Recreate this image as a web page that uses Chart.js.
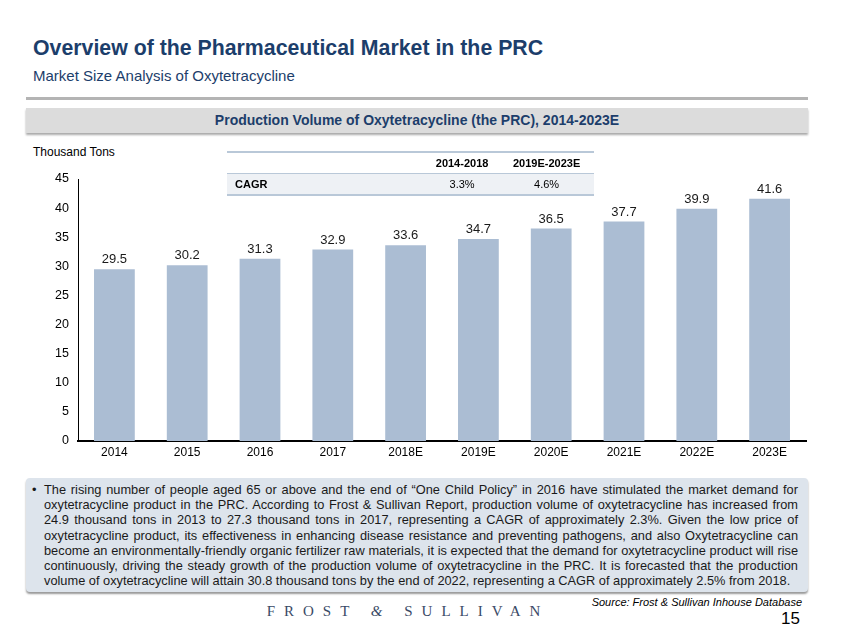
<!DOCTYPE html>
<html lang="en">
<head>
    <meta charset="UTF-8">
    <title>Production Volume of Oxytetracycline (the PRC), 2014-2023E</title>
    <script src="https://cdn.jsdelivr.net/npm/chart.js"></script>
    <style>
        body {
            margin: 0;
            width: 843px;
            height: 635px;
            position: relative;
            background: #ffffff;
            font-family: 'Liberation Sans', Arial, sans-serif;
            overflow: hidden;
        }
        .title {
            position: absolute; left: 33px; top: 36px;
            font-size: 21.3px; font-weight: bold; color: #1c3e6b;
        }
        .subtitle {
            position: absolute; left: 33px; top: 67px;
            font-size: 15px; color: #1c3e6b;
        }
        .rule {
            position: absolute; left: 26px; top: 97px; width: 782px; height: 3px;
            background: #b4b4b4;
        }
        .chartTitle {
            position: absolute; left: 26px; top: 108px; width: 782px; height: 25px;
            background: #dcdcdc; box-shadow: 0 2px 2px #aaa;
            text-align: center; line-height: 25px;
            font-size: 14px; font-weight: bold; color: #1c3e6b;
        }
        .unit {
            position: absolute; left: 33px; top: 145px; font-size: 12px; color: #000;
        }
        #wrap {
            position: absolute; left: 0; top: 160px; width: 843px; height: 310px;
        }
        table.cagr {
            position: absolute; left: 227px; top: 151px; width: 367px;
            border-collapse: collapse; font-size: 11px; color: #000;
        }
        table.cagr td { padding: 0; height: 20px; text-align: center; }
        table.cagr tr.head td { border-top: 2px solid #b9c8d8; border-bottom: 1px solid #b9c8d8; font-weight: bold; }
        table.cagr tr.row td { background: #eef1f5; border-bottom: 2px solid #b9c8d8; }
        table.cagr td.lbl { text-align: left; padding-left: 8px; font-weight: bold; width: 190px; }
        .note {
            position: absolute; left: 26px; top: 478px; width: 764px; height: 108px;
            padding: 4px 10px 2px 8px;
            background: #dde4ec; border-radius: 4px; box-shadow: 0 2px 2px #999;
            font-size: 12.8px; line-height: 15.2px; color: #1a1a1a; text-align: justify;
        }
        .note .bullet { position: absolute; left: 6px; top: 4px; }
        .note p { margin: 0 0 0 10px; }
        .source {
            position: absolute; right: 41px; top: 596px;
            font-size: 11px; font-style: italic; color: #000;
        }
        .page {
            position: absolute; right: 43px; top: 609px; font-size: 17px; color: #000;
        }
        .brand {
            position: absolute; left: 238px; top: 603px; width: 340px; text-align: center;
            font-family: 'Liberation Serif', 'DejaVu Serif', serif; font-size: 15px;
            letter-spacing: 9px; color: #3a4a66;
        }
        .brand i { font-style: italic; }
    </style>
</head>
<body>
    <div class="title">Overview of the Pharmaceutical Market in the PRC</div>
    <div class="subtitle">Market Size Analysis of Oxytetracycline</div>
    <div class="rule"></div>
    <div class="chartTitle">Production Volume of Oxytetracycline (the PRC), 2014-2023E</div>
    <div class="unit">Thousand Tons</div>

    <div id="wrap"><canvas id="chart"></canvas></div>

    <table class="cagr" id="cagrTable"></table>

    <div class="note">
        <span class="bullet">•</span>
        <p>The rising number of people aged 65 or above and the end of “One Child Policy” in 2016 have stimulated the market demand for oxytetracycline product in the PRC. According to Frost &amp; Sullivan Report, production volume of oxytetracycline has increased from 24.9 thousand tons in 2013 to 27.3 thousand tons in 2017, representing a CAGR of approximately 2.3%. Given the low price of oxytetracycline product, its effectiveness in enhancing disease resistance and preventing pathogens, and also Oxytetracycline can become an environmentally-friendly organic fertilizer raw materials, it is expected that the demand for oxytetracycline product will rise continuously, driving the steady growth of the production volume of oxytetracycline in the PRC. It is forecasted that the production volume of oxytetracycline will attain 30.8 thousand tons by the end of 2022, representing a CAGR of approximately 2.5% from 2018.</p>
    </div>
    <div class="source">Source: Frost &amp; Sullivan Inhouse Database</div>
    <div class="brand">FROST <i>&amp;</i> SULLIVAN</div>
    <div class="page">15</div>

    <script>
        const years = ["2014", "2015", "2016", "2017", "2018E", "2019E", "2020E", "2021E", "2022E", "2023E"];
        const volume = [29.5, 30.2, 31.3, 32.9, 33.6, 34.7, 36.5, 37.7, 39.9, 41.6];
        const cagrPeriods = ["2014-2018", "2019E-2023E"];
        const cagrValues = ["3.3%", "4.6%"];

        // CAGR table on top of the chart
        document.getElementById("cagrTable").innerHTML =
            `<tr class="head"><td class="lbl"></td>${cagrPeriods.map(p => `<td>${p}</td>`).join("")}</tr>` +
            `<tr class="row"><td class="lbl">CAGR</td>${cagrValues.map(v => `<td>${v}</td>`).join("")}</tr>`;

        // value labels above the bars
        const barLabels = {
            id: "barLabels",
            afterDatasetsDraw(chart) {
                const ctx = chart.ctx;
                const meta = chart.getDatasetMeta(0);
                ctx.save();
                ctx.font = "13px 'Liberation Sans', Arial, sans-serif";
                ctx.fillStyle = "#1a1a1a";
                ctx.textAlign = "center";
                ctx.textBaseline = "bottom";
                meta.data.forEach((bar, i) => {
                    ctx.fillText(volume[i].toFixed(1), bar.x, bar.y - 3);
                });
                ctx.restore();
            }
        };

        new Chart(document.getElementById("chart"), {
            type: "bar",
            data: {
                labels: years,
                datasets: [{
                    data: volume,
                    backgroundColor: "#abbdd3",
                    barPercentage: 0.56,
                    categoryPercentage: 1.0
                }]
            },
            options: {
                responsive: true,
                maintainAspectRatio: false,
                animation: false,
                layout: { padding: { top: 19, right: 37, bottom: 0, left: 0 } },
                plugins: { legend: { display: false }, tooltip: { enabled: false } },
                scales: {
                    x: {
                        grid: { display: false, drawTicks: false },
                        border: { color: "#000", width: 2 },
                        ticks: { color: "#000", font: { size: 12, family: "'Liberation Sans', Arial, sans-serif" }, padding: 4 },
                        afterFit: s => { s.height = 29; }
                    },
                    y: {
                        min: 0, max: 45,
                        grid: { display: false, drawOnChartArea: false, drawTicks: true, tickLength: 5, color: "#000" },
                        border: { color: "#000", width: 1 },
                        ticks: { stepSize: 5, color: "#000", font: { size: 12.5, family: "'Liberation Sans', Arial, sans-serif" }, padding: 4 },
                        afterFit: s => { s.width = 78; }
                    }
                }
            },
            plugins: [barLabels]
        });
    </script>
</body>
</html>
